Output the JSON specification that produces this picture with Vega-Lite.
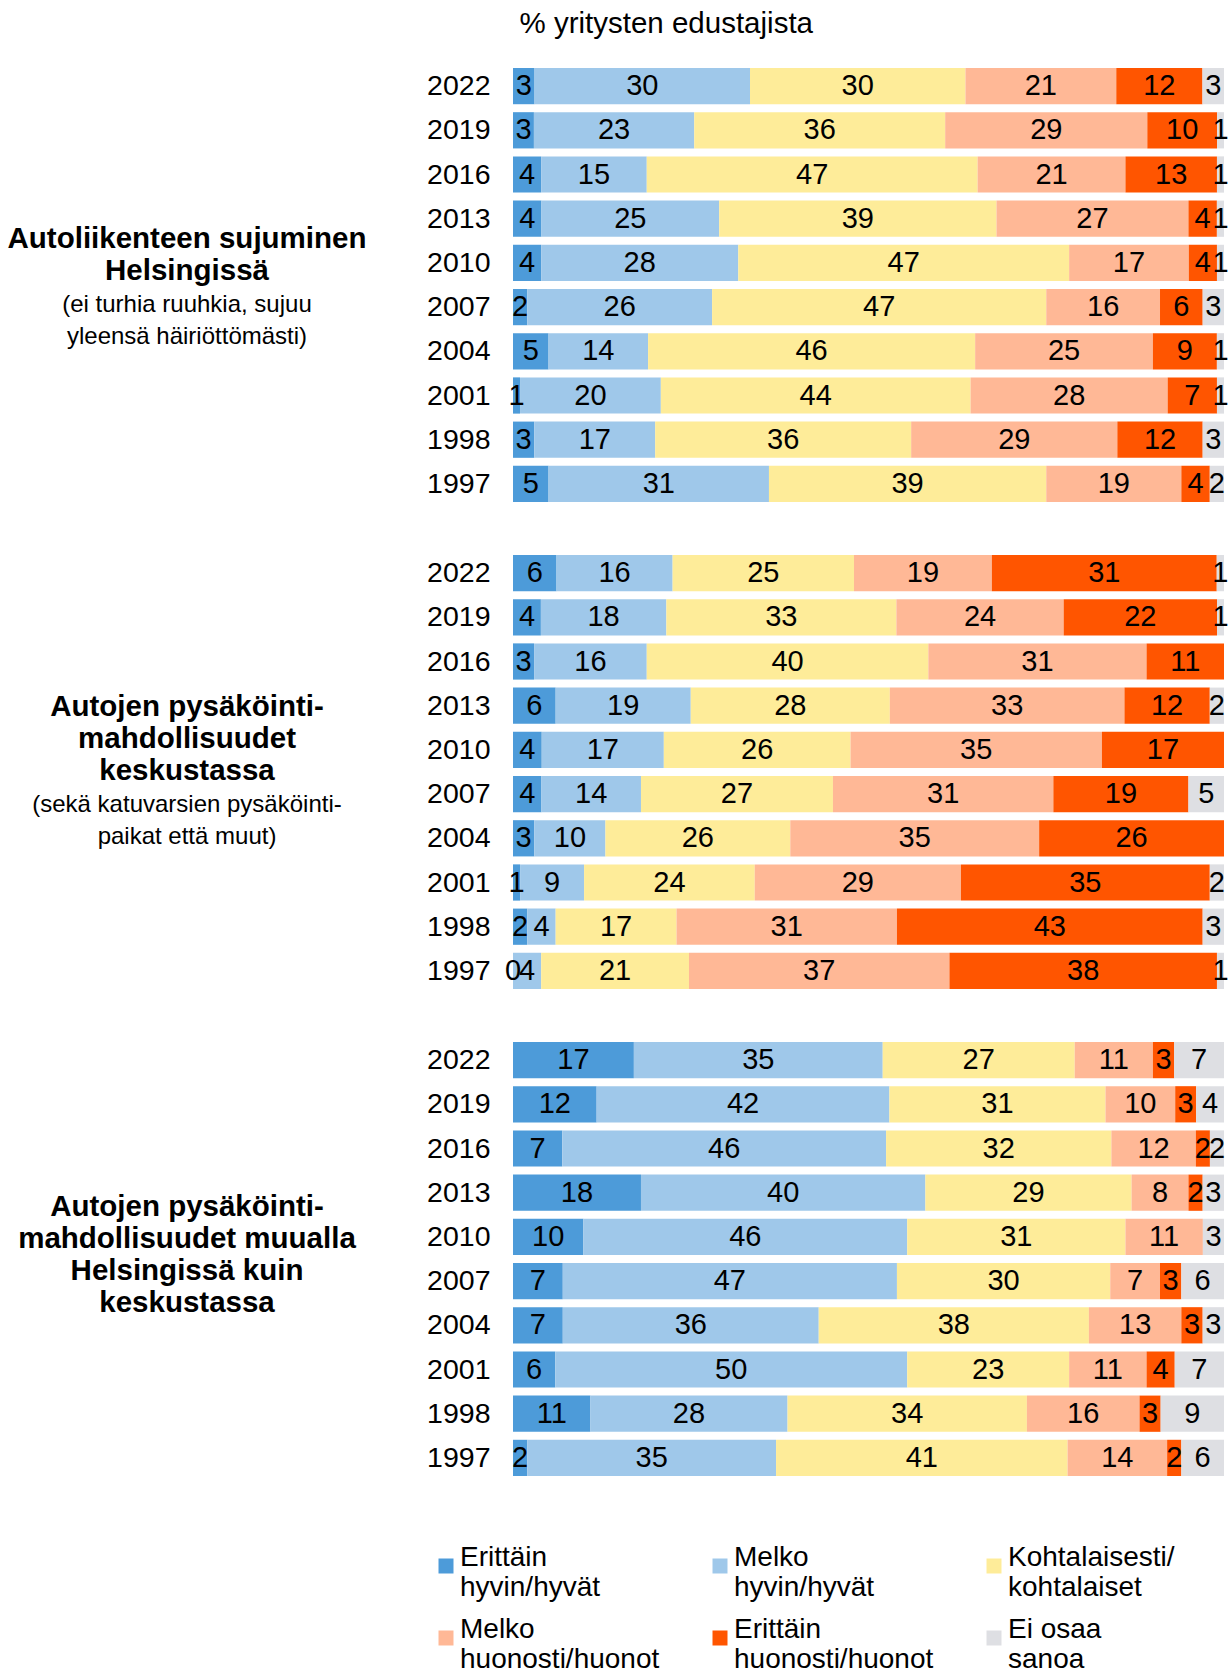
{
  "$schema": "https://vega.github.io/schema/vega-lite/v6.json",
  "padding": {"left": 7, "top": 8, "right": 5, "bottom": 0},
  "bounds": "flush",
  "spacing": 45,
  "data": {"values": [
    {"g":1,"y":2022,"c":1,"v":3},{"g":1,"y":2022,"c":2,"v":30},{"g":1,"y":2022,"c":3,"v":30},{"g":1,"y":2022,"c":4,"v":21},{"g":1,"y":2022,"c":5,"v":12},{"g":1,"y":2022,"c":6,"v":3},
    {"g":1,"y":2019,"c":1,"v":3},{"g":1,"y":2019,"c":2,"v":23},{"g":1,"y":2019,"c":3,"v":36},{"g":1,"y":2019,"c":4,"v":29},{"g":1,"y":2019,"c":5,"v":10},{"g":1,"y":2019,"c":6,"v":1},
    {"g":1,"y":2016,"c":1,"v":4},{"g":1,"y":2016,"c":2,"v":15},{"g":1,"y":2016,"c":3,"v":47},{"g":1,"y":2016,"c":4,"v":21},{"g":1,"y":2016,"c":5,"v":13},{"g":1,"y":2016,"c":6,"v":1},
    {"g":1,"y":2013,"c":1,"v":4},{"g":1,"y":2013,"c":2,"v":25},{"g":1,"y":2013,"c":3,"v":39},{"g":1,"y":2013,"c":4,"v":27},{"g":1,"y":2013,"c":5,"v":4},{"g":1,"y":2013,"c":6,"v":1},
    {"g":1,"y":2010,"c":1,"v":4},{"g":1,"y":2010,"c":2,"v":28},{"g":1,"y":2010,"c":3,"v":47},{"g":1,"y":2010,"c":4,"v":17},{"g":1,"y":2010,"c":5,"v":4},{"g":1,"y":2010,"c":6,"v":1},
    {"g":1,"y":2007,"c":1,"v":2},{"g":1,"y":2007,"c":2,"v":26},{"g":1,"y":2007,"c":3,"v":47},{"g":1,"y":2007,"c":4,"v":16},{"g":1,"y":2007,"c":5,"v":6},{"g":1,"y":2007,"c":6,"v":3},
    {"g":1,"y":2004,"c":1,"v":5},{"g":1,"y":2004,"c":2,"v":14},{"g":1,"y":2004,"c":3,"v":46},{"g":1,"y":2004,"c":4,"v":25},{"g":1,"y":2004,"c":5,"v":9},{"g":1,"y":2004,"c":6,"v":1},
    {"g":1,"y":2001,"c":1,"v":1},{"g":1,"y":2001,"c":2,"v":20},{"g":1,"y":2001,"c":3,"v":44},{"g":1,"y":2001,"c":4,"v":28},{"g":1,"y":2001,"c":5,"v":7},{"g":1,"y":2001,"c":6,"v":1},
    {"g":1,"y":1998,"c":1,"v":3},{"g":1,"y":1998,"c":2,"v":17},{"g":1,"y":1998,"c":3,"v":36},{"g":1,"y":1998,"c":4,"v":29},{"g":1,"y":1998,"c":5,"v":12},{"g":1,"y":1998,"c":6,"v":3},
    {"g":1,"y":1997,"c":1,"v":5},{"g":1,"y":1997,"c":2,"v":31},{"g":1,"y":1997,"c":3,"v":39},{"g":1,"y":1997,"c":4,"v":19},{"g":1,"y":1997,"c":5,"v":4},{"g":1,"y":1997,"c":6,"v":2},
    {"g":2,"y":2022,"c":1,"v":6},{"g":2,"y":2022,"c":2,"v":16},{"g":2,"y":2022,"c":3,"v":25},{"g":2,"y":2022,"c":4,"v":19},{"g":2,"y":2022,"c":5,"v":31},{"g":2,"y":2022,"c":6,"v":1},
    {"g":2,"y":2019,"c":1,"v":4},{"g":2,"y":2019,"c":2,"v":18},{"g":2,"y":2019,"c":3,"v":33},{"g":2,"y":2019,"c":4,"v":24},{"g":2,"y":2019,"c":5,"v":22},{"g":2,"y":2019,"c":6,"v":1},
    {"g":2,"y":2016,"c":1,"v":3},{"g":2,"y":2016,"c":2,"v":16},{"g":2,"y":2016,"c":3,"v":40},{"g":2,"y":2016,"c":4,"v":31},{"g":2,"y":2016,"c":5,"v":11},
    {"g":2,"y":2013,"c":1,"v":6},{"g":2,"y":2013,"c":2,"v":19},{"g":2,"y":2013,"c":3,"v":28},{"g":2,"y":2013,"c":4,"v":33},{"g":2,"y":2013,"c":5,"v":12},{"g":2,"y":2013,"c":6,"v":2},
    {"g":2,"y":2010,"c":1,"v":4},{"g":2,"y":2010,"c":2,"v":17},{"g":2,"y":2010,"c":3,"v":26},{"g":2,"y":2010,"c":4,"v":35},{"g":2,"y":2010,"c":5,"v":17},
    {"g":2,"y":2007,"c":1,"v":4},{"g":2,"y":2007,"c":2,"v":14},{"g":2,"y":2007,"c":3,"v":27},{"g":2,"y":2007,"c":4,"v":31},{"g":2,"y":2007,"c":5,"v":19},{"g":2,"y":2007,"c":6,"v":5},
    {"g":2,"y":2004,"c":1,"v":3},{"g":2,"y":2004,"c":2,"v":10},{"g":2,"y":2004,"c":3,"v":26},{"g":2,"y":2004,"c":4,"v":35},{"g":2,"y":2004,"c":5,"v":26},
    {"g":2,"y":2001,"c":1,"v":1},{"g":2,"y":2001,"c":2,"v":9},{"g":2,"y":2001,"c":3,"v":24},{"g":2,"y":2001,"c":4,"v":29},{"g":2,"y":2001,"c":5,"v":35},{"g":2,"y":2001,"c":6,"v":2},
    {"g":2,"y":1998,"c":1,"v":2},{"g":2,"y":1998,"c":2,"v":4},{"g":2,"y":1998,"c":3,"v":17},{"g":2,"y":1998,"c":4,"v":31},{"g":2,"y":1998,"c":5,"v":43},{"g":2,"y":1998,"c":6,"v":3},
    {"g":2,"y":1997,"c":1,"v":0},{"g":2,"y":1997,"c":2,"v":4},{"g":2,"y":1997,"c":3,"v":21},{"g":2,"y":1997,"c":4,"v":37},{"g":2,"y":1997,"c":5,"v":38},{"g":2,"y":1997,"c":6,"v":1},
    {"g":3,"y":2022,"c":1,"v":17},{"g":3,"y":2022,"c":2,"v":35},{"g":3,"y":2022,"c":3,"v":27},{"g":3,"y":2022,"c":4,"v":11},{"g":3,"y":2022,"c":5,"v":3},{"g":3,"y":2022,"c":6,"v":7},
    {"g":3,"y":2019,"c":1,"v":12},{"g":3,"y":2019,"c":2,"v":42},{"g":3,"y":2019,"c":3,"v":31},{"g":3,"y":2019,"c":4,"v":10},{"g":3,"y":2019,"c":5,"v":3},{"g":3,"y":2019,"c":6,"v":4},
    {"g":3,"y":2016,"c":1,"v":7},{"g":3,"y":2016,"c":2,"v":46},{"g":3,"y":2016,"c":3,"v":32},{"g":3,"y":2016,"c":4,"v":12},{"g":3,"y":2016,"c":5,"v":2},{"g":3,"y":2016,"c":6,"v":2},
    {"g":3,"y":2013,"c":1,"v":18},{"g":3,"y":2013,"c":2,"v":40},{"g":3,"y":2013,"c":3,"v":29},{"g":3,"y":2013,"c":4,"v":8},{"g":3,"y":2013,"c":5,"v":2},{"g":3,"y":2013,"c":6,"v":3},
    {"g":3,"y":2010,"c":1,"v":10},{"g":3,"y":2010,"c":2,"v":46},{"g":3,"y":2010,"c":3,"v":31},{"g":3,"y":2010,"c":4,"v":11},{"g":3,"y":2010,"c":6,"v":3},
    {"g":3,"y":2007,"c":1,"v":7},{"g":3,"y":2007,"c":2,"v":47},{"g":3,"y":2007,"c":3,"v":30},{"g":3,"y":2007,"c":4,"v":7},{"g":3,"y":2007,"c":5,"v":3},{"g":3,"y":2007,"c":6,"v":6},
    {"g":3,"y":2004,"c":1,"v":7},{"g":3,"y":2004,"c":2,"v":36},{"g":3,"y":2004,"c":3,"v":38},{"g":3,"y":2004,"c":4,"v":13},{"g":3,"y":2004,"c":5,"v":3},{"g":3,"y":2004,"c":6,"v":3},
    {"g":3,"y":2001,"c":1,"v":6},{"g":3,"y":2001,"c":2,"v":50},{"g":3,"y":2001,"c":3,"v":23},{"g":3,"y":2001,"c":4,"v":11},{"g":3,"y":2001,"c":5,"v":4},{"g":3,"y":2001,"c":6,"v":7},
    {"g":3,"y":1998,"c":1,"v":11},{"g":3,"y":1998,"c":2,"v":28},{"g":3,"y":1998,"c":3,"v":34},{"g":3,"y":1998,"c":4,"v":16},{"g":3,"y":1998,"c":5,"v":3},{"g":3,"y":1998,"c":6,"v":9},
    {"g":3,"y":1997,"c":1,"v":2},{"g":3,"y":1997,"c":2,"v":35},{"g":3,"y":1997,"c":3,"v":41},{"g":3,"y":1997,"c":4,"v":14},{"g":3,"y":1997,"c":5,"v":2},{"g":3,"y":1997,"c":6,"v":6}
  ]},
  "vconcat": [
    {
      "width": 711, "height": 442,
      "title": {"text": ["Autoliikenteen sujuminen", "Helsingissä"], "subtitle": ["(ei turhia ruuhkia, sujuu", "yleensä häiriöttömästi)"], "dy": 345.5, "dx": -326, "anchor": "start", "align": "center", "frame": "group"},
      "transform": [
        {"filter": "datum.g == 1"},
        {"stack": "v", "groupby": ["y"], "sort": [{"field": "c", "order": "ascending"}], "offset": "normalize", "as": ["x0", "x1"]},
        {"calculate": "(datum.x0 + datum.x1) / 2", "as": "xm"}
      ],
      "encoding": {"y": {"field": "y", "type": "ordinal", "sort": "descending", "scale": {"paddingInner": 0.18, "paddingOuter": 0.09}, "axis": {"title": null}}},
      "layer": [
        {"mark": {"type": "bar"},
         "encoding": {
           "x": {"field": "x0", "type": "quantitative", "scale": {"domain": [0, 1]}, "axis": {"orient": "top", "title": "% yritysten edustajista", "labels": false, "ticks": false, "domain": false, "grid": false, "titleAnchor": "start", "titleAlign": "left", "titleX": 6, "titleBaseline": "alphabetic", "titlePadding": 32, "titleFont": "Liberation Sans, Arial, sans-serif", "titleFontSize": 29.5, "titleFontWeight": "normal", "titleColor": "black"}},
           "x2": {"field": "x1"},
           "color": {"field": "c", "type": "nominal", "scale": {"domain": [1, 2, 3, 4, 5, 6], "range": ["#4D9BD9", "#9FC8EA", "#FEEC99", "#FFB896", "#FF5500", "#DEDFE3"]},
             "legend": {"labelExpr": "[['Erittäin','hyvin/hyvät'],['Melko','hyvin/hyvät'],['Kohtalaisesti/','kohtalaiset'],['Melko','huonosti/huonot'],['Erittäin','huonosti/huonot'],['Ei osaa','sanoa']][datum.value - 1]"}}
         }},
        {"mark": {"type": "text", "font": "Liberation Sans, Arial, sans-serif", "fontSize": 29, "color": "black", "baseline": "middle", "align": "center"},
         "encoding": {
           "x": {"field": "xm", "type": "quantitative", "scale": {"domain": [0, 1]}, "axis": {"orient": "top", "title": "% yritysten edustajista", "labels": false, "ticks": false, "domain": false, "grid": false, "titleAnchor": "start", "titleAlign": "left", "titleX": 6, "titleBaseline": "alphabetic", "titlePadding": 32, "titleFont": "Liberation Sans, Arial, sans-serif", "titleFontSize": 29.5, "titleFontWeight": "normal", "titleColor": "black"}},
           "text": {"field": "v", "type": "quantitative"}
         }}
      ]
    },
    {
      "width": 711, "height": 442,
      "title": {"text": ["Autojen pysäköinti-", "mahdollisuudet", "keskustassa"], "subtitle": ["(sekä katuvarsien pysäköinti-", "paikat että muut)"], "dy": 302.5, "dx": -326, "anchor": "start", "align": "center", "frame": "group"},
      "transform": [
        {"filter": "datum.g == 2"},
        {"stack": "v", "groupby": ["y"], "sort": [{"field": "c", "order": "ascending"}], "offset": "normalize", "as": ["x0", "x1"]},
        {"calculate": "(datum.x0 + datum.x1) / 2", "as": "xm"}
      ],
      "encoding": {"y": {"field": "y", "type": "ordinal", "sort": "descending", "scale": {"paddingInner": 0.18, "paddingOuter": 0.09}, "axis": {"title": null}}},
      "layer": [
        {"mark": {"type": "bar"},
         "encoding": {
           "x": {"field": "x0", "type": "quantitative", "scale": {"domain": [0, 1]}, "axis": null},
           "x2": {"field": "x1"},
           "color": {"field": "c", "type": "nominal", "scale": {"domain": [1, 2, 3, 4, 5, 6], "range": ["#4D9BD9", "#9FC8EA", "#FEEC99", "#FFB896", "#FF5500", "#DEDFE3"]},
             "legend": {"labelExpr": "[['Erittäin','hyvin/hyvät'],['Melko','hyvin/hyvät'],['Kohtalaisesti/','kohtalaiset'],['Melko','huonosti/huonot'],['Erittäin','huonosti/huonot'],['Ei osaa','sanoa']][datum.value - 1]"}}
         }},
        {"mark": {"type": "text", "font": "Liberation Sans, Arial, sans-serif", "fontSize": 29, "color": "black", "baseline": "middle", "align": "center"},
         "encoding": {
           "x": {"field": "xm", "type": "quantitative", "scale": {"domain": [0, 1]}, "axis": null},
           "text": {"field": "v", "type": "quantitative"}
         }}
      ]
    },
    {
      "width": 711, "height": 442,
      "title": {"text": ["Autojen pysäköinti-", "mahdollisuudet muualla", "Helsingissä kuin", "keskustassa"], "dy": 284, "dx": -326, "anchor": "start", "align": "center", "frame": "group"},
      "transform": [
        {"filter": "datum.g == 3"},
        {"stack": "v", "groupby": ["y"], "sort": [{"field": "c", "order": "ascending"}], "offset": "normalize", "as": ["x0", "x1"]},
        {"calculate": "(datum.x0 + datum.x1) / 2", "as": "xm"}
      ],
      "encoding": {"y": {"field": "y", "type": "ordinal", "sort": "descending", "scale": {"paddingInner": 0.18, "paddingOuter": 0.09}, "axis": {"title": null}}},
      "layer": [
        {"mark": {"type": "bar"},
         "encoding": {
           "x": {"field": "x0", "type": "quantitative", "scale": {"domain": [0, 1]}, "axis": null},
           "x2": {"field": "x1"},
           "color": {"field": "c", "type": "nominal", "scale": {"domain": [1, 2, 3, 4, 5, 6], "range": ["#4D9BD9", "#9FC8EA", "#FEEC99", "#FFB896", "#FF5500", "#DEDFE3"]},
             "legend": {"labelExpr": "[['Erittäin','hyvin/hyvät'],['Melko','hyvin/hyvät'],['Kohtalaisesti/','kohtalaiset'],['Melko','huonosti/huonot'],['Erittäin','huonosti/huonot'],['Ei osaa','sanoa']][datum.value - 1]"}}
         }},
        {"mark": {"type": "text", "font": "Liberation Sans, Arial, sans-serif", "fontSize": 29, "color": "black", "baseline": "middle", "align": "center"},
         "encoding": {
           "x": {"field": "xm", "type": "quantitative", "scale": {"domain": [0, 1]}, "axis": null},
           "text": {"field": "v", "type": "quantitative"}
         }}
      ]
    }
  ],
  "config": {
    "view": {"stroke": null},
    "axisY": {"domain": false, "ticks": false, "grid": false, "labelPadding": 23, "labelFont": "Liberation Sans, Arial, sans-serif", "labelFontSize": 28.5, "labelColor": "black"},
    "title": {"font": "Liberation Sans, Arial, sans-serif", "fontSize": 29.5, "fontWeight": "bold", "lineHeight": 32, "color": "black", "subtitleFont": "Liberation Sans, Arial, sans-serif", "subtitleFontSize": 24, "subtitleLineHeight": 32, "subtitleColor": "black", "subtitlePadding": 6.5},
    "legend": {"orient": "none", "legendX": -81, "legendY": 1488, "title": null, "columns": 3, "direction": "horizontal", "symbolType": "square", "symbolSize": 225, "symbolStrokeWidth": 0, "labelFont": "Liberation Sans, Arial, sans-serif", "labelFontSize": 28, "labelLineHeight": 31, "labelColor": "black", "labelOffset": 0, "labelLimit": 400, "labelBaseline": "alphabetic", "columnPadding": 46, "rowPadding": 14, "gridAlign": "all"}
  }
}
